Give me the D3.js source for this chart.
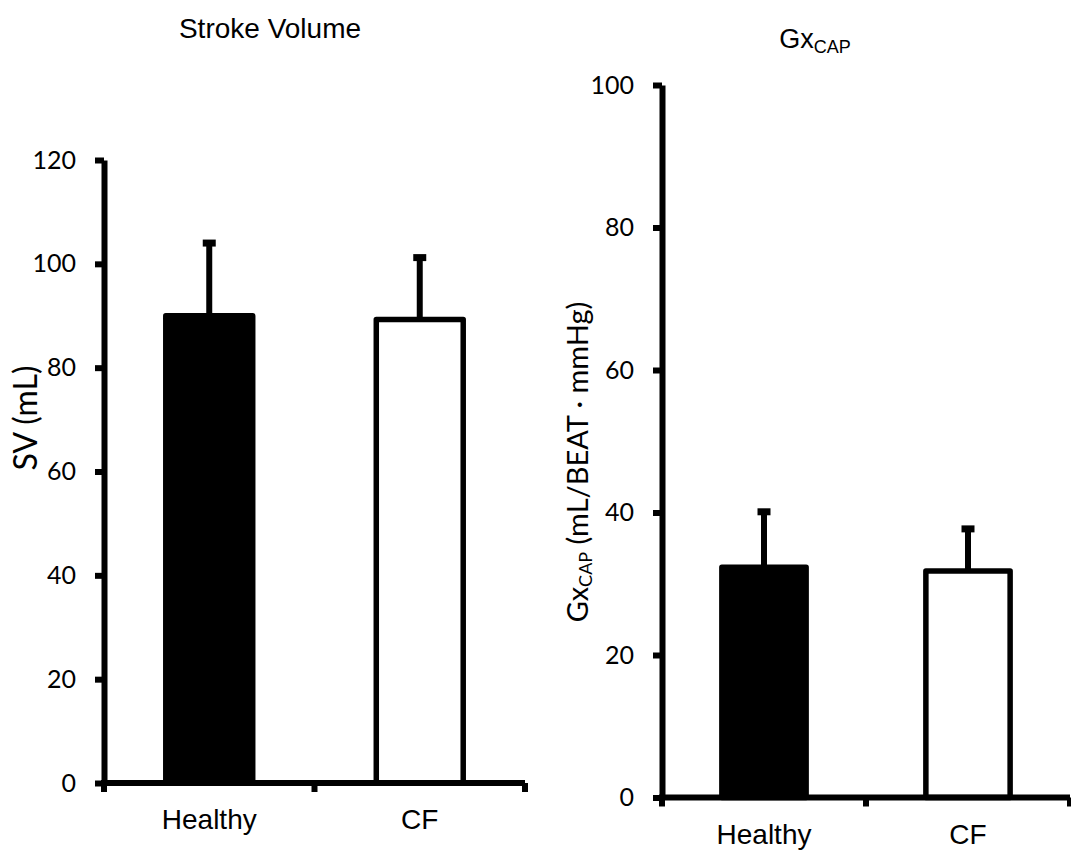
<!DOCTYPE html>
<html>
<head>
<meta charset="utf-8">
<script src="https://cdn.jsdelivr.net/npm/d3@7"></script>
<style>
  body { margin: 0; background: #fff; }
  .arial { font-family: "Liberation Sans", Arial, sans-serif; }
  .cal { font-family: Lato, "Open Sans", sans-serif; }
</style>
</head>
<body>
<script>
// data
const groups = ['Healthy', 'CF'];
const barFills = ['#000', '#fff'];

const svMean = [90, 89.3];
const svErr = [14, 11.9];
const svTicks = [0, 20, 40, 60, 80, 100, 120];

const gxMean = [32.3, 31.8];
const gxErr = [7.8, 5.9];
const gxTicks = [0, 20, 40, 60, 80, 100];

const width = 1071;
const height = 850;

const svg = d3.select('body')
  .append('svg')
  .attr('width', width)
  .attr('height', height);

svg.append('rect').attr('width', width).attr('height', height).attr('fill', '#fff');

function panel(p) {
  const y = d3.scaleLinear().domain([0, d3.max(p.ticks)]).range([p.y0, p.y1]);
  const x = d3.scaleBand().domain(groups).range([p.x0, p.x1])
    .paddingInner(0.587).paddingOuter(0.587 / 2);

  const g = svg.append('g');

  // bars
  g.selectAll('rect.bar')
    .data(groups)
    .enter()
    .append('rect')
    .attr('class', 'bar')
    .attr('x', d => x(d))
    .attr('width', x.bandwidth())
    .attr('y', (d, i) => y(p.mean[i]))
    .attr('height', (d, i) => y(0) - y(p.mean[i]))
    .attr('fill', (d, i) => barFills[i])
    .attr('stroke', '#000')
    .attr('stroke-width', 5.5)
    .attr('stroke-linejoin', 'round');

  // error bars (upper only)
  g.selectAll('line.whisker')
    .data(groups)
    .enter()
    .append('line')
    .attr('x1', d => x(d) + x.bandwidth() / 2)
    .attr('x2', d => x(d) + x.bandwidth() / 2)
    .attr('y1', (d, i) => y(p.mean[i]))
    .attr('y2', (d, i) => y(p.mean[i] + p.err[i]))
    .attr('stroke', '#000')
    .attr('stroke-width', 6);

  g.selectAll('line.cap')
    .data(groups)
    .enter()
    .append('line')
    .attr('x1', d => x(d) + x.bandwidth() / 2 - 6.5)
    .attr('x2', d => x(d) + x.bandwidth() / 2 + 6.5)
    .attr('y1', (d, i) => y(p.mean[i] + p.err[i]))
    .attr('y2', (d, i) => y(p.mean[i] + p.err[i]))
    .attr('stroke', '#000')
    .attr('stroke-width', 7);

  // y axis
  const yAxis = d3.axisLeft(y)
    .tickValues(p.ticks)
    .tickSizeInner(9)
    .tickSizeOuter(0)
    .tickPadding(19);

  const ya = g.append('g')
    .attr('transform', 'translate(' + p.x0 + ',0)')
    .call(yAxis);
  ya.select('.domain').attr('stroke-width', 6).attr('stroke', '#000');
  ya.selectAll('.tick line').attr('stroke-width', 6).attr('stroke', '#000');
  ya.selectAll('.tick text')
    .attr('class', 'cal')
    .attr('font-size', 25)
    .attr('fill', '#000');

  // x axis: line + ticks at band edges
  g.append('line')
    .attr('x1', p.x0 - 3).attr('x2', p.x1)
    .attr('y1', y(0)).attr('y2', y(0))
    .attr('stroke', '#000').attr('stroke-width', 6);

  const edges = d3.range(groups.length + 1).map(i => x.range()[0] + i * x.step());
  g.selectAll('line.xtick')
    .data(edges)
    .enter()
    .append('line')
    .attr('x1', d => d).attr('x2', d => d)
    .attr('y1', y(0)).attr('y2', y(0) + 9)
    .attr('stroke', '#000').attr('stroke-width', 6);

  g.selectAll('text.xlab')
    .data(groups)
    .enter()
    .append('text')
    .attr('class', 'arial')
    .attr('x', d => x(d) + x.bandwidth() / 2)
    .attr('y', y(0) + p.labOff)
    .attr('text-anchor', 'middle')
    .attr('font-size', 28)
    .text(d => d);

  return { x, y };
}

panel({ mean: svMean, err: svErr, ticks: svTicks, x0: 104, x1: 525, y0: 783, y1: 160, labOff: 46 });
panel({ mean: gxMean, err: gxErr, ticks: gxTicks, x0: 662, x1: 1070, y0: 797.5, y1: 85, labOff: 46 });

// titles
svg.append('text')
  .attr('class', 'arial')
  .attr('x', 270).attr('y', 38)
  .attr('text-anchor', 'middle')
  .attr('font-size', 28)
  .text('Stroke Volume');

const t2 = svg.append('text')
  .attr('class', 'arial')
  .attr('x', 815).attr('y', 48)
  .attr('text-anchor', 'middle')
  .attr('font-size', 27);
t2.append('tspan').text('Gx');
t2.append('tspan').attr('font-size', 18).attr('dy', 5).text('CAP');

// y labels
svg.append('text')
  .attr('class', 'cal')
  .attr('transform', 'translate(37,418) rotate(-90)')
  .attr('text-anchor', 'middle')
  .attr('font-size', 32)
  .text('SV (mL)');

const yl2 = svg.append('text')
  .attr('class', 'cal')
  .attr('transform', 'translate(588,462) rotate(-90)')
  .attr('text-anchor', 'middle')
  .attr('font-size', 29);
yl2.append('tspan').text('Gx');
yl2.append('tspan').attr('font-size', 18).attr('dy', 4).text('CAP');
yl2.append('tspan').attr('dy', -4).text(' (mL/BEAT · mmHg)');
</script>
</body>
</html>
